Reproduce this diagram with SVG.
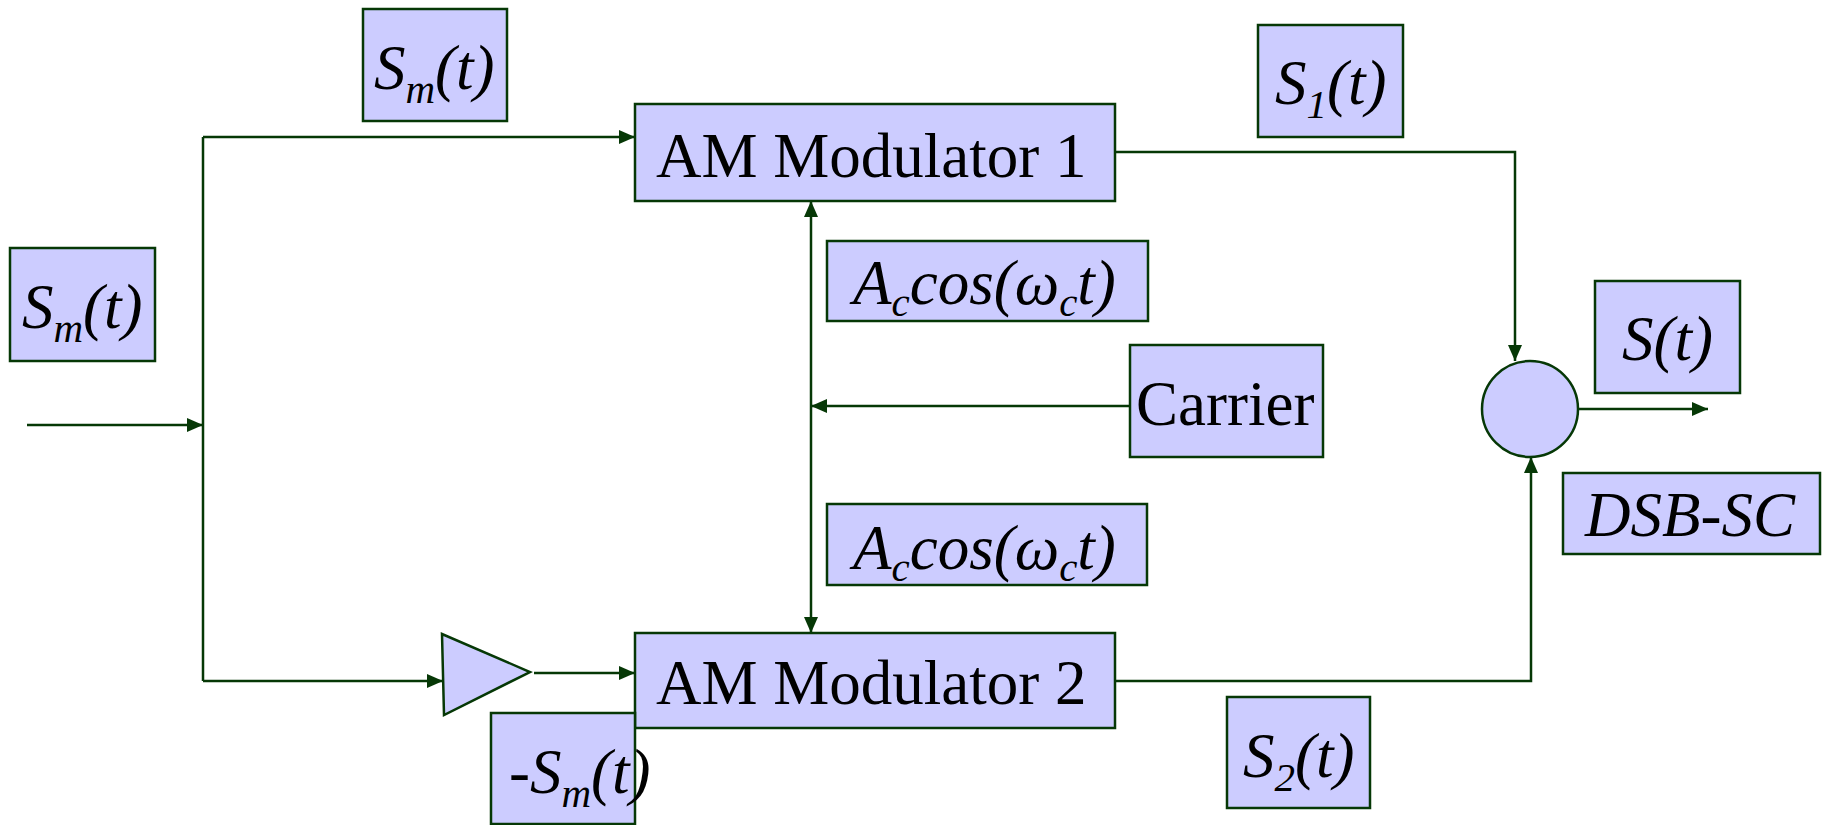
<svg xmlns="http://www.w3.org/2000/svg" width="1825" height="825" viewBox="0 0 1825 825">
  <style>
    .box { fill: #ccccff; stroke: #063806; stroke-width: 2.5; }
    .wire { fill: none; stroke: #063806; stroke-width: 2.5; }
    .arrow { marker-end: url(#head); }
    text { font-family: "Liberation Serif", "Times New Roman", serif; font-size: 63px; fill: #000; }
    .it { font-style: italic; }
  </style>
  <defs>
    <marker id="head" markerUnits="userSpaceOnUse" markerWidth="18" markerHeight="14" refX="16" refY="7" orient="auto">
      <path d="M0,0 L16,7 L0,14 Z" fill="#063806"/>
    </marker>
  </defs>

  <rect width="1825" height="825" fill="#ffffff"/>

  <!-- connectors -->
  <g id="connectors">
    <path class="wire arrow" d="M27,425 H203"/>
    <path class="wire" d="M203,137 V681"/>
    <path class="wire arrow" d="M203,137 H635"/>
    <path class="wire arrow" d="M203,681 H443"/>
    <path class="wire arrow" d="M534,673 H635"/>
    <path class="wire arrow" d="M1130,406 H811"/>
    <path class="wire arrow" d="M811,406 V201"/>
    <path class="wire arrow" d="M811,406 V633"/>
    <path class="wire arrow" d="M1115,152 H1515 V361"/>
    <path class="wire arrow" d="M1115,681 H1531 V457"/>
    <path class="wire arrow" d="M1579,409 H1708"/>
  </g>

  <!-- modulators -->
  <g id="am-modulator-1">
    <rect class="box" x="635" y="104" width="480" height="97"/>
    <text x="656" y="177">AM Modulator 1</text>
  </g>
  <g id="am-modulator-2">
    <rect class="box" x="635" y="633" width="480" height="95"/>
    <text x="656" y="704">AM Modulator 2</text>
  </g>

  <!-- inverter -->
  <g id="inverter">
    <polygon class="box" points="442,634 444,715 530,672"/>
  </g>

  <!-- summing junction -->
  <g id="summer">
    <circle class="box" cx="1530" cy="409" r="48"/>
  </g>

  <!-- carrier source -->
  <g id="carrier">
    <rect class="box" x="1130" y="345" width="193" height="112"/>
    <text x="1136" y="425">Carrier</text>
  </g>

  <!-- signal labels -->
  <g id="label-sm-top">
    <rect class="box" x="363" y="9" width="144" height="112"/>
    <text class="it" x="374" y="89">S<tspan font-size="41" dy="14">m</tspan><tspan dy="-14">(t)</tspan></text>
  </g>
  <g id="label-sm-left">
    <rect class="box" x="10" y="248" width="145" height="113"/>
    <text class="it" x="22" y="328">S<tspan font-size="41" dy="14">m</tspan><tspan dy="-14">(t)</tspan></text>
  </g>
  <g id="label-carrier-1">
    <rect class="box" x="827" y="241" width="321" height="80"/>
    <text class="it" x="853" y="304">A<tspan font-size="41" dy="12">c</tspan><tspan dy="-12">cos(ω</tspan><tspan font-size="41" dy="12">c</tspan><tspan dy="-12">t)</tspan></text>
  </g>
  <g id="label-carrier-2">
    <rect class="box" x="827" y="504" width="320" height="81"/>
    <text class="it" x="853" y="569">A<tspan font-size="41" dy="12">c</tspan><tspan dy="-12">cos(ω</tspan><tspan font-size="41" dy="12">c</tspan><tspan dy="-12">t)</tspan></text>
  </g>
  <g id="label-s1">
    <rect class="box" x="1258" y="25" width="145" height="112"/>
    <text class="it" x="1275" y="104">S<tspan font-size="41" dy="14">1</tspan><tspan dy="-14">(t)</tspan></text>
  </g>
  <g id="label-s2">
    <rect class="box" x="1227" y="697" width="143" height="111"/>
    <text class="it" x="1243" y="777">S<tspan font-size="41" dy="14">2</tspan><tspan dy="-14">(t)</tspan></text>
  </g>
  <g id="label-neg-sm">
    <rect class="box" x="491" y="713" width="144" height="111"/>
    <text class="it" x="509" y="793">-S<tspan font-size="41" dy="14">m</tspan><tspan dy="-14">(t)</tspan></text>
  </g>
  <g id="label-s">
    <rect class="box" x="1595" y="281" width="145" height="112"/>
    <text class="it" x="1622" y="360">S(t)</text>
  </g>
  <g id="label-dsbsc">
    <rect class="box" x="1563" y="473" width="257" height="81"/>
    <text class="it" x="1585" y="536">DSB-SC</text>
  </g>
</svg>
